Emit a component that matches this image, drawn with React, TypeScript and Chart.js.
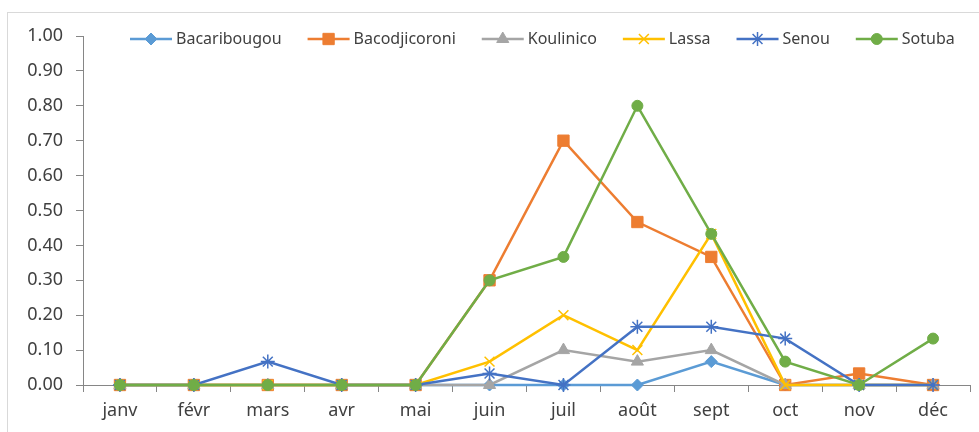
import React, { useEffect, useRef } from "react";
import { Chart, registerables } from "chart.js";
import { drawPoint } from "chart.js/helpers";

Chart.register(...registerables);

const months = ["janv", "févr", "mars", "avr", "mai", "juin", "juil", "août", "sept", "oct", "nov", "déc"];

const bacaribougou = [0, 0, 0, 0, 0, 0, 0, 0, 0.067, 0, 0, 0];
const bacodjicoroni = [0, 0, 0, 0, 0, 0.3, 0.7, 0.467, 0.367, 0, 0.033, 0];
const koulinico = [0, 0, 0, 0, 0, 0, 0.1, 0.067, 0.1, 0, 0, 0];
const lassa = [0, 0, 0, 0, 0, 0.067, 0.2, 0.1, 0.433, 0, 0, 0];
const senou = [0, 0, 0.067, 0, 0, 0.033, 0, 0.167, 0.167, 0.133, 0, 0];
const sotuba = [0, 0, 0, 0, 0, 0.3, 0.367, 0.8, 0.433, 0.067, 0, 0.133];

const seriesNames = ["Bacaribougou", "Bacodjicoroni", "Koulinico", "Lassa", "Senou", "Sotuba"];
const seriesData = [bacaribougou, bacodjicoroni, koulinico, lassa, senou, sotuba];
const seriesColors = ["#5B9BD5", "#ED7D31", "#A5A5A5", "#FFC000", "#4472C4", "#70AD47"];
const seriesMarkers = ["rectRot", "rect", "triangle", "crossRot", "star", "circle"];
const markerRadius = [6, 8, 7, 7, 7, 5.5];

const FONT = "'Noto Sans', sans-serif";
const TEXT = "#404040";
const AXIS = "#868686";

const frameAndLegend = {
  id: "frameAndLegend",
  beforeDraw(chart: any) {
    const ctx = chart.ctx;
    ctx.save();
    ctx.fillStyle = "#ffffff";
    ctx.fillRect(0, 0, chart.width, chart.height);
    ctx.strokeStyle = "#D9D9D9";
    ctx.lineWidth = 1;
    ctx.strokeRect(7.5, 12.5, 2000, 2000);
    ctx.restore();
  },
  afterDraw(chart: any) {
    const ctx = chart.ctx;
    ctx.save();
    ctx.font = `16px ${FONT}`;
    ctx.textBaseline = "middle";
    ctx.textAlign = "left";
    let x = 130;
    const y = 39;
    chart.data.datasets.forEach((ds: any) => {
      ctx.strokeStyle = ds.borderColor;
      ctx.lineWidth = 2.5;
      ctx.beginPath();
      ctx.moveTo(x, y);
      ctx.lineTo(x + 42, y);
      ctx.stroke();
      ctx.fillStyle = ds.pointBackgroundColor;
      ctx.strokeStyle = ds.pointBorderColor;
      ctx.lineWidth = ds.pointBorderWidth;
      drawPoint(ctx, { pointStyle: ds.pointStyle, radius: ds.pointRadius, rotation: 0, borderWidth: ds.pointBorderWidth }, x + 21, y);
      ctx.fillStyle = TEXT;
      ctx.fillText(ds.label, x + 46, y);
      x += 46 + ctx.measureText(ds.label).width + 26;
    });
    ctx.restore();
  },
};

export default function App() {
  const ref = useRef<HTMLCanvasElement | null>(null);
  useEffect(() => {
    document.body.style.margin = "0";
    if (!ref.current) return;
    const datasets = seriesNames.map((name, i) => ({
      label: name,
      data: seriesData[i],
      borderColor: seriesColors[i],
      backgroundColor: seriesColors[i],
      pointBackgroundColor: seriesColors[i],
      pointBorderColor: seriesColors[i],
      pointBorderWidth: seriesMarkers[i] === "crossRot" || seriesMarkers[i] === "star" ? 1.5 : 1,
      pointStyle: seriesMarkers[i],
      pointRadius: markerRadius[i],
      borderWidth: 2.5,
      tension: 0,
      clip: false,
      order: seriesNames.length - i,
    }));
    const chart = new Chart(ref.current, {
      type: "line",
      data: { labels: months, datasets },
      plugins: [frameAndLegend],
      options: {
        animation: false,
        responsive: true,
        maintainAspectRatio: false,
        layout: { padding: { left: 0, right: 7, top: 36, bottom: 0 } },
        plugins: { legend: { display: false }, tooltip: { enabled: false } },
        scales: {
          x: {
            offset: true,
            grid: { offset: true, drawOnChartArea: false, drawTicks: true, tickLength: 7, color: AXIS },
            border: { color: AXIS, width: 1 },
            ticks: { color: TEXT, font: { family: FONT, size: 18 }, padding: 8 },
            afterFit: (s: any) => { s.height = 47; },
          },
          y: {
            min: 0,
            max: 1,
            grid: { drawOnChartArea: false, drawTicks: true, tickLength: 7, color: AXIS },
            border: { color: AXIS, width: 1 },
            ticks: {
              stepSize: 0.1,
              color: TEXT,
              font: { family: FONT, size: 18 },
              padding: 13,
              callback: (v: any) => Number(v).toFixed(2),
            },
            afterFit: (s: any) => { s.width = 83; },
          },
        },
      },
    });
    return () => chart.destroy();
  }, []);
  return (
    <div style={{ width: 979, height: 432, position: "relative" }}>
      <canvas ref={ref} />
    </div>
  );
}
